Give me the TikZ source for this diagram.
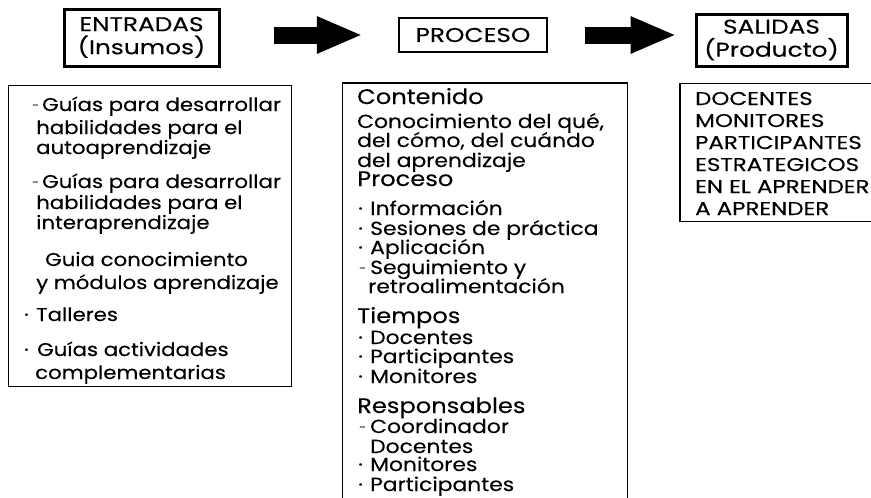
\documentclass[tikz,border=0pt]{standalone}
\usepackage{fontspec}
\setmainfont{Poppins}[FakeStretch=1.15,FakeBold=0.2]
\newfontfamily\capsfont{Poppins}[FakeStretch=1.24,FakeBold=0.2]
\usetikzlibrary{arrows.meta}
\tikzset{
  hdrbox/.style={draw, line width=3pt, align=center, inner sep=0pt, font=\capsfont\fontsize{20}{23}\selectfont},
  listbox/.style={draw, line width=1.8pt, inner sep=0pt},
  txt/.style={anchor=base west, inner sep=0pt, font=\fontsize{18.5}{20}\selectfont},
  ctxt/.style={anchor=base west, inner sep=0pt, font=\fontsize{19}{20}\selectfont},
  dsh/.style={anchor=base west, inner sep=0pt, font=\fontsize{11}{20}\selectfont},
  head/.style={anchor=base west, inner sep=0pt, font=\fontsize{21}{22}\selectfont},
  caps/.style={anchor=base west, inner sep=0pt, font=\capsfont\fontsize{18.5}{20}\selectfont},
  bigarrow/.style={line width=17pt, -{Triangle[length=46pt,width=34pt]}}
}
\begin{document}
\begin{tikzpicture}[x=1pt,y=-1pt]
\useasboundingbox (0,0) rectangle (871,498);
% header boxes
\node[hdrbox, minimum width=155, minimum height=57] (ent) at (141.5,37.5) {ENTRADAS\\(Insumos)};
\node[hdrbox, line width=2.5pt, minimum width=148, minimum height=34] (pro) at (473,35) {PROCESO};
\node[hdrbox, minimum width=151, minimum height=52] (sal) at (771.5,40) {SALIDAS\\(Producto)};
% content boxes
\node[listbox, minimum width=283, minimum height=301] (lbox) at (150,236) {};
\node[listbox, minimum width=285, minimum height=430] (cbox) at (485,298) {};
\node[listbox, minimum width=230, minimum height=138] (rbox) at (795,152.5) {};
% arrows
\draw[bigarrow, shorten <=53pt, shorten >=35pt] (ent.east |- pro.west) -- (pro.west);
\draw[bigarrow, shorten <=37pt, shorten >=18pt] (pro.east) -- (pro.east -| sal.west);
% left texts
\foreach \t/\x/\y [count=\i] in {
  {Guías para desarrollar}/42/111,
  {habilidades para el}/36/134,
  {autoaprendizaje}/36/154,
  {Guías para desarrollar}/42/188,
  {habilidades para el}/36/209,
  {interaprendizaje}/36/229,
  {Guia conocimiento}/45/266,
  {y módulos aprendizaje}/36/289,
  {Talleres}/36/321,
  {Guías actividades}/37/356,
  {complementarias}/35/379}
  \node[txt] (L\i) at (\x,\y) {\t};
\node[dsh] (LB1) at (32,109) {-};
\node[dsh] (LB2) at (32,186) {-};
\node[txt] (LB3) at (24,321) {·};
\node[txt] (LB4) at (24,356) {·};
% center texts
\foreach \t/\x/\y [count=\i] in {
  {Conocimiento del qué,}/357/128,
  {del cómo, del cuándo}/357/147,
  {del aprendizaje}/357/167,
  {Información}/370/215,
  {Sesiones de práctica}/370/235,
  {Aplicación}/370/254,
  {Seguimiento y}/370/274,
  {retroalimentación}/368/293,
  {Docentes}/370/344,
  {Participantes}/370/363,
  {Monitores}/370/383,
  {Coordinador}/370/433,
  {Docentes}/370/453,
  {Monitores}/370/471,
  {Participantes}/370/491}
  \node[ctxt] (C\i) at (\x,\y) {\t};
\foreach \y [count=\i] in {215, 235, 254, 344, 363, 383, 471, 491}
  \node[ctxt] (CB\i) at (358,\y) {·};
\node[dsh] (CD1) at (359,272) {-};
\node[dsh] (CD2) at (359,431) {-};
\node[head] (H1) at (357,104) {Contenido};
\node[head] (H2) at (357,186) {Proceso};
\node[head] (H3) at (357,323) {Tiempos};
\node[head] (H4) at (357,413) {Responsables};
% right texts
\foreach \t/\y [count=\i] in {DOCENTES/105, MONITORES/127, PARTICIPANTES/149, ESTRATEGICOS/171, EN EL APRENDER/193, A APRENDER/215}
  \node[caps] (R\i) at (695,\y) {\t};
\end{tikzpicture}
\end{document}
